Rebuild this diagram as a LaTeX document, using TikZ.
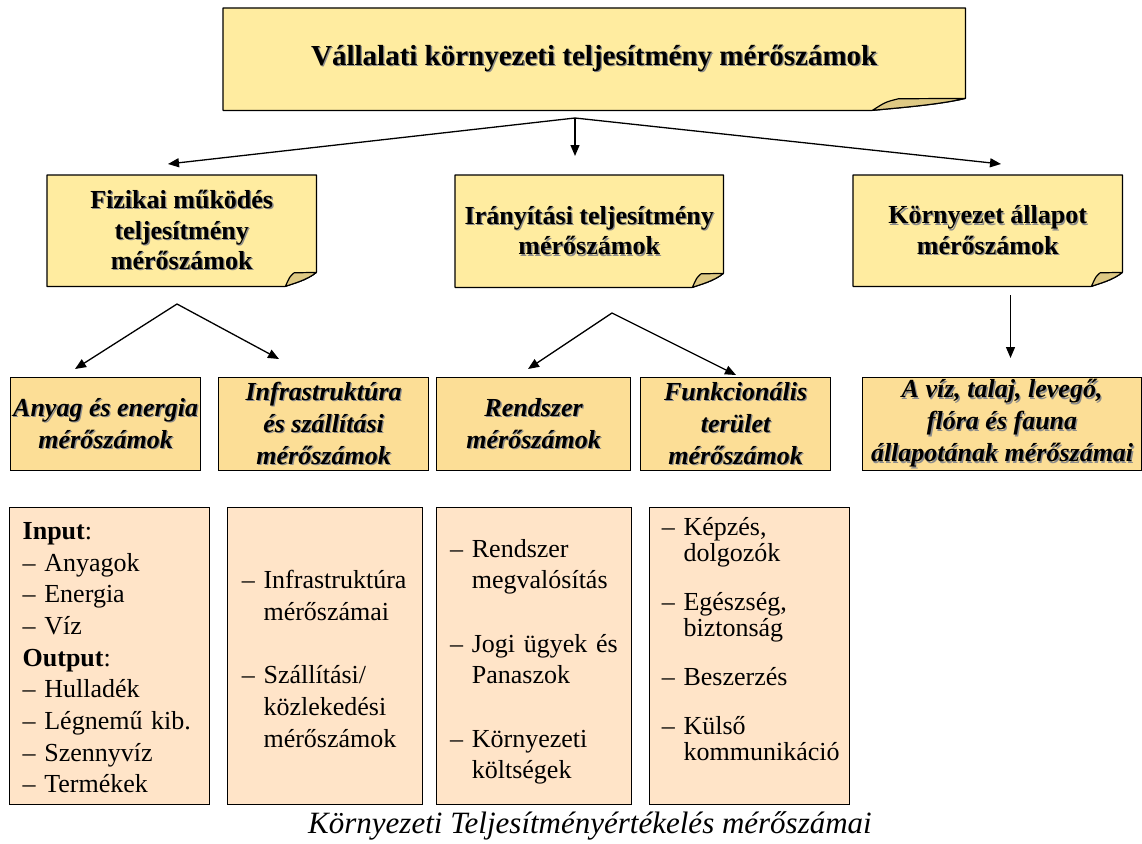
\documentclass[tikz,border=0pt]{standalone}
\usepackage{fontspec}
\setmainfont{Liberation Serif}
\usetikzlibrary{arrows.meta,backgrounds,calc}

\definecolor{notefill}{RGB}{255,236,160}
\definecolor{flapfill}{RGB}{222,201,132}
\definecolor{groupfill}{RGB}{252,222,150}
\definecolor{listfill}{RGB}{255,228,200}
\definecolor{textshade}{RGB}{140,140,140}

% bold heading text with a soft drop shadow
\newcommand\shd[1]{\leavevmode\rlap{\hspace{1.3pt}\raisebox{-1.3pt}{\color{textshade}#1}}#1}
% indent of a continued list item
\newcommand\cont{\phantom{–\ }}

% sticky-note outline with a curled lower right corner
% #1 node, #2 curl width, #3 curl height
\newcommand\notepaper[3]{%
  \begin{scope}[on background layer]
    \filldraw[fill=notefill, line width=1.2pt, line join=round]
      (#1.north west) -- (#1.north east) -- ([yshift=#3]#1.south east)
      .. controls ([xshift=-0.3*#2, yshift=0.45*#3]#1.south east)
             and ([xshift=-0.75*#2, yshift=0.2*#3]#1.south east) ..
      ([xshift=-#2]#1.south east) -- (#1.south west) -- cycle;
    \filldraw[fill=flapfill, line width=1.2pt, line join=round]
      ([xshift=-#2]#1.south east)
      .. controls ([xshift=-0.86*#2, yshift=0.7*#3]#1.south east) ..
      ([xshift=-0.72*#2, yshift=0.97*#3]#1.south east)
      -- ([yshift=#3]#1.south east)
      .. controls ([xshift=-0.3*#2, yshift=0.45*#3]#1.south east)
             and ([xshift=-0.75*#2, yshift=0.2*#3]#1.south east) ..
      ([xshift=-#2]#1.south east) -- cycle;
  \end{scope}}

\tikzset{
  note/.style={anchor=north west, inner sep=0pt, align=center,
    font=\fontsize{26}{30.5}\selectfont\bfseries},
  group/.style={anchor=north west, draw, line width=1.2pt, fill=groupfill,
    inner sep=0pt, minimum height=93pt, align=center,
    font=\fontsize{26}{32}\selectfont\bfseries\itshape},
  listbox/.style={anchor=north west, draw, line width=1.2pt, fill=listfill,
    inner sep=0pt, minimum height=297pt},
  listtext/.style={anchor=base west, inner sep=0pt, align=left,
    text width=200pt, font=\fontsize{26}{31.7}\selectfont},
  link/.style={line width=1.3pt, line join=round, -{Triangle[length=11pt,width=9pt]}},
  twolink/.style={line width=1.3pt, line join=round,
    {Triangle[length=11pt,width=9pt]}-{Triangle[length=11pt,width=9pt]}},
}

\begin{document}
\begin{tikzpicture}[x=1pt, y=-1pt]
\useasboundingbox (0,0) rectangle (1142,843);

% top level
\node[note, minimum width=742pt, minimum height=102pt,
      font=\fontsize{29}{34}\selectfont\bfseries] (top) at (223,8)
  {\shd{Vállalati környezeti teljesítmény mérőszámok}};
\notepaper{top}{93pt}{12pt}

% second level
\node[note, minimum width=269pt, minimum height=111pt] (phys) at (47,175)
  {\shd{Fizikai működés}\\\shd{teljesítmény}\\\shd{mérőszámok}};
\notepaper{phys}{31pt}{14pt}
\node[note, minimum width=268pt, minimum height=112pt] (mgmt) at (455,175)
  {\shd{Irányítási teljesítmény}\\\shd{mérőszámok}};
\notepaper{mgmt}{31pt}{14pt}
\node[note, minimum width=269pt, minimum height=111pt] (env) at (853,175)
  {\shd{Környezet állapot}\\\shd{mérőszámok}};
\notepaper{env}{31pt}{14pt}

% third level
\node[group, minimum width=190pt] (mat) at (10,377)
  {\shd{Anyag és energia}\\\shd{mérőszámok}};
\node[group, minimum width=210pt] (infra) at (218,377)
  {\shd{Infrastruktúra}\\\shd{és szállítási}\\\shd{mérőszámok}};
\node[group, minimum width=194pt] (sys) at (436,377)
  {\shd{Rendszer}\\\shd{mérőszámok}};
\node[group, minimum width=190pt] (func) at (640,377)
  {\shd{Funkcionális}\\\shd{terület}\\\shd{mérőszámok}};
\node[group, minimum width=279pt] (state) at (862,377)
  {\shd{A víz, talaj, levegő,}\\\shd{flóra és fauna}\\\shd{állapotának mérőszámai}};

% lists
\node[listbox, minimum width=200pt] (l1) at (9,507) {};
\node[listbox, minimum width=195pt] (l2) at (227,507) {};
\node[listbox, minimum width=195pt] (l3) at (436,507) {};
\node[listbox, minimum width=200pt] (l4) at (649,507) {};

\node[listtext] (l1t) at (22.5,539.3)
  {\textbf{Input}:\\– Anyagok\\– Energia\\– Víz\\\textbf{Output}:\\– Hulladék\\– Légnemű kib.\\– Szennyvíz\\– Termékek};
\node[listtext] (l2t) at (241.7,588.5)
  {– Infrastruktúra\\\cont mérőszámai\\[31.7pt]– Szállítási/\\\cont közlekedési\\\cont mérőszámok};
\node[listtext] (l3t) at (450,557)
  {– Rendszer\\\cont megvalósítás\\[31.7pt]– Jogi ügyek és\\\cont Panaszok\\[31.7pt]– Környezeti\\\cont költségek};
\node[listtext, font=\fontsize{26}{26}\selectfont] (l4t) at (661.7,535.5)
  {– Képzés,\\\cont dolgozók\\[23pt]– Egészség,\\\cont biztonság\\[23pt]– Beszerzés\\[23pt]– Külső\\\cont kommunikáció};

% caption
\node[font=\fontsize{31}{36}\selectfont\itshape] (caption) at (590,826)
  {Környezeti Teljesítményértékelés mérőszámai};

% connectors
\coordinate (j0) at (575,118);
\coordinate (t0a) at (168,164);
\coordinate (t0b) at (575,156);
\coordinate (t0c) at (1001,164);
\draw[twolink] (t0a) -- (j0) -- (t0c);
\draw[link] (j0) -- (t0b);

\coordinate (jA) at (177,304);
\coordinate (tAa) at (75,369);
\coordinate (tAb) at (279,359);
\draw[twolink] (tAa) -- (jA) -- (tAb);

\coordinate (jB) at (612,313);
\coordinate (tBa) at (528,369);
\coordinate (tBb) at (736,375);
\draw[twolink] (tBa) -- (jB) -- (tBb);

\coordinate (jC) at (1010.5,295);
\coordinate (tC) at (1010.5,358);
\draw[link] (jC) -- (tC);
\end{tikzpicture}
\end{document}
